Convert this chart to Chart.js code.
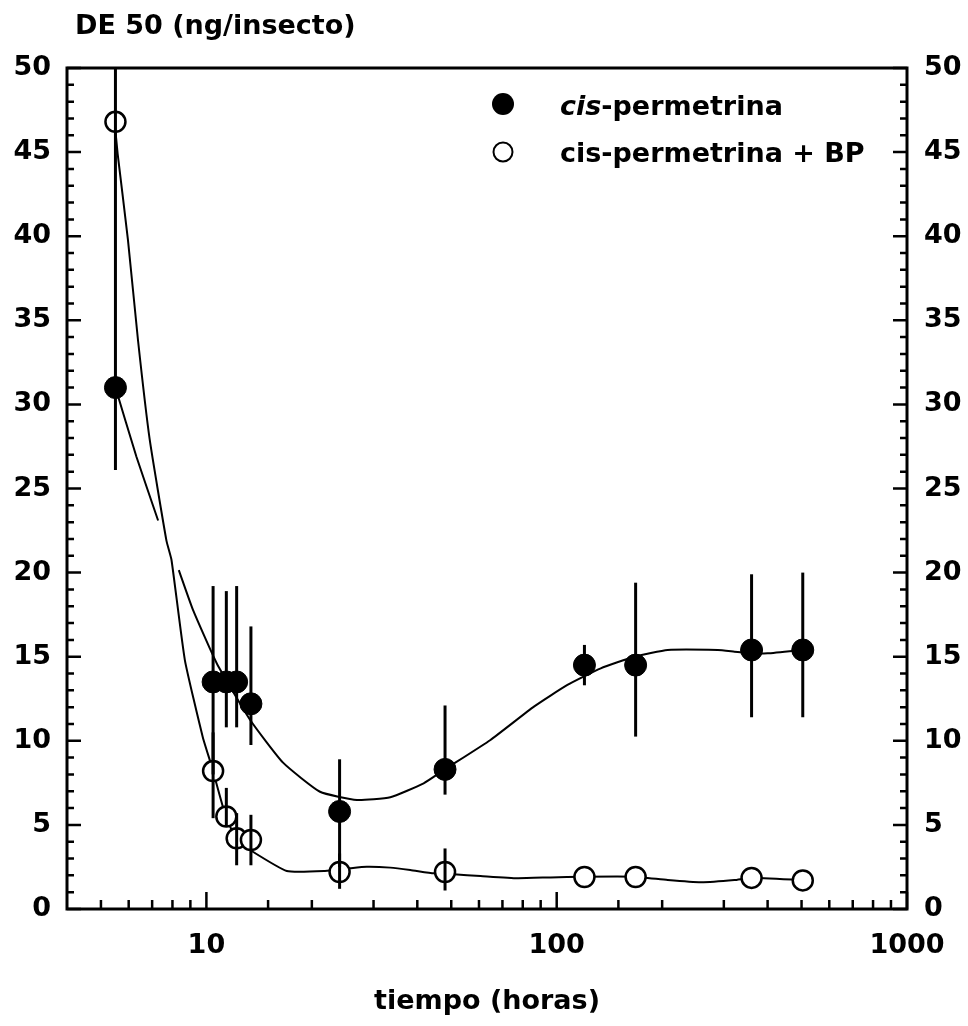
<!DOCTYPE html>
<html>
<head>
<meta charset="utf-8">
<script src="https://cdn.jsdelivr.net/npm/chart.js@4/dist/chart.umd.min.js"></script>
<style>
  html, body { margin: 0; padding: 0; background: #fff; }
  canvas { display: block; }
</style>
</head>
<body>
<canvas id="chart" width="968" height="1026"></canvas>
<script>
const FAMILY = '"DejaVu Sans", "Liberation Sans", sans-serif';

// Sampling times (hours)
const hours = [5.5, 10.45, 11.4, 12.2, 13.4, 24, 48, 120, 168, 360, 504];

// DE 50 (ng/insecto) for cis-permetrina, with the limits of each interval
const dePerm     = [31.0, 13.5, 13.5, 13.5, 12.2, 5.8, 8.3, 14.5, 14.5, 15.4, 15.4];
const dePermLow  = [26.1, 8.0, 10.8, 10.8, 9.75, 2.5, 6.8, 13.3, 10.25, 11.4, 11.4];
const dePermHigh = [52.0, 19.2, 18.9, 19.2, 16.8, 8.9, 12.1, 15.7, 19.4, 19.9, 20.0];

// DE 50 (ng/insecto) for cis-permetrina + BP
const dePermBP     = [46.8, 8.2, 5.5, 4.2, 4.1, 2.2, 2.2, 1.9, 1.9, 1.85, 1.7];
const dePermBPLow  = [null, 5.4, 4.9, 2.6, 2.6, 1.2, 1.1, null, null, null, null];
const dePermBPHigh = [null, 10.5, 7.2, 5.7, 5.6, 3.3, 3.6, null, null, null, null];

// Fitted curve, cis-permetrina (null marks the break where the curves cross)
const fitPermX = [5.5, 6.31, 7.28, 7.8, 8.34, 9.15, 10.71, 13.32, 16.55, 21.1, 26.9, 33.5, 41.7, 47.6, 64.7, 86.1, 107.3, 133.6, 166.4, 207.4, 288.3, 321.6, 359, 400, 502];
const fitPermY = [31.0, 26.9, 23.1, null, 20.15, 17.8, 14.6, 11.25, 8.7, 6.97, 6.48, 6.64, 7.47, 8.26, 10.05, 12.03, 13.32, 14.31, 15.0, 15.4, 15.4, 15.3, 15.2, 15.2, 15.4];

// Fitted curve, cis-permetrina + BP
const fitBPX = [5.47, 5.58, 5.97, 6.38, 6.89, 7.69, 7.95, 8.68, 9.77, 10.37, 11.37, 12.23, 13.32, 16.96, 21.8, 25.7, 28.7, 33.5, 38.2, 44.6, 50.8, 60.6, 77.2, 96.1, 118.9, 166.4, 207.4, 258.2, 321.6, 359, 502];
const fitBPY = [46.8, 44.9, 39.8, 33.8, 27.9, 21.9, 20.75, 14.8, 10.2, 8.44, 5.47, 4.1, 3.51, 2.26, 2.26, 2.42, 2.51, 2.46, 2.32, 2.12, 2.06, 1.96, 1.83, 1.88, 1.92, 1.92, 1.72, 1.59, 1.72, 1.86, 1.72];

// Axis ranges and labelled ticks
const xMin = 4, xMax = 1000;
const xTickLabels = [10, 100, 1000];
const yMin = 0, yMax = 50, yStep = 5;

const toPoints = (xs, ys) => xs.map((x, i) => ({ x: x, y: ys[i] }));

// Frame, inward tick marks, error bars and the text blocks around the plot
const decorations = {
  id: 'decorations',
  afterDatasetsDraw(chart) {
    const ctx = chart.ctx;
    const a = chart.chartArea;
    const xs = chart.scales.x, ys = chart.scales.y;
    ctx.save();
    ctx.beginPath();
    ctx.rect(a.left, a.top, a.right - a.left, a.bottom - a.top);
    ctx.clip();
    ctx.strokeStyle = '#000';
    ctx.lineWidth = 3;
    ctx.lineCap = 'butt';
    const bars = (low, high) => {
      hours.forEach((h, i) => {
        if (low[i] == null || high[i] == null) return;
        const px = xs.getPixelForValue(h);
        ctx.beginPath();
        ctx.moveTo(px, ys.getPixelForValue(low[i]));
        ctx.lineTo(px, ys.getPixelForValue(high[i]));
        ctx.stroke();
      });
    };
    bars(dePermLow, dePermHigh);
    bars(dePermBPLow, dePermBPHigh);
    ctx.restore();
  },
  afterDraw(chart) {
    const ctx = chart.ctx;
    const a = chart.chartArea;
    const xs = chart.scales.x, ys = chart.scales.y;
    ctx.save();
    ctx.strokeStyle = '#000';
    ctx.fillStyle = '#000';

    // y ticks on both sides, pointing into the plot
    ctx.lineWidth = 2.5;
    for (let v = yMin; v <= yMax; v += 1) {
      const py = ys.getPixelForValue(v);
      const len = v % yStep === 0 ? 14 : 7;
      ctx.beginPath();
      ctx.moveTo(a.left, py); ctx.lineTo(a.left + len, py);
      ctx.moveTo(a.right, py); ctx.lineTo(a.right - len, py);
      ctx.stroke();
    }
    // x ticks on the bottom axis, pointing up
    xs.ticks.forEach(t => {
      const v = t.value;
      if (v <= xMin || v > xMax) return;
      const px = xs.getPixelForValue(v);
      const major = Math.abs(Math.log10(v) - Math.round(Math.log10(v))) < 1e-9;
      const len = major ? 17 : 9;
      ctx.beginPath();
      ctx.moveTo(px, a.bottom); ctx.lineTo(px, a.bottom - len);
      ctx.stroke();
    });

    // frame
    ctx.lineWidth = 3;
    ctx.strokeRect(a.left, a.top, a.right - a.left, a.bottom - a.top);

    // titles
    ctx.font = 'bold 27px ' + FAMILY;
    ctx.textBaseline = 'alphabetic';
    ctx.textAlign = 'left';
    ctx.fillText('DE 50 (ng/insecto)', 75, 34);
    ctx.textAlign = 'center';
    ctx.fillText('tiempo (horas)', (a.left + a.right) / 2, 1009);

    // legend
    const lx = 503, tx = 560;
    ctx.beginPath();
    ctx.arc(lx, 104, 11, 0, Math.PI * 2);
    ctx.fill();
    ctx.beginPath();
    ctx.lineWidth = 2;
    ctx.arc(lx, 152, 9.5, 0, Math.PI * 2);
    ctx.fillStyle = '#fff';
    ctx.fill();
    ctx.stroke();
    ctx.fillStyle = '#000';
    ctx.textAlign = 'left';
    ctx.font = 'italic bold 27px ' + FAMILY;
    ctx.fillText('cis', tx, 115);
    const w = ctx.measureText('cis').width;
    ctx.font = 'bold 27px ' + FAMILY;
    ctx.fillText('-permetrina', tx + w, 115);
    ctx.fillText('cis-permetrina + BP', tx, 162);
    ctx.restore();
  }
};

const tickFont = { family: FAMILY, size: 27, weight: 'bold' };

new Chart(document.getElementById('chart'), {
  data: {
    datasets: [
      {
        type: 'scatter',
        label: 'cis-permetrina',
        data: toPoints(hours, dePerm),
        pointRadius: 11,
        pointHoverRadius: 11,
        pointBackgroundColor: '#000',
        pointBorderColor: '#000',
        pointBorderWidth: 1,
        order: 0
      },
      {
        type: 'scatter',
        label: 'cis-permetrina + BP',
        data: toPoints(hours, dePermBP),
        pointRadius: 10,
        pointHoverRadius: 10,
        pointBackgroundColor: '#fff',
        pointBorderColor: '#000',
        pointBorderWidth: 2.5,
        order: 0
      },
      {
        type: 'line',
        label: 'ajuste cis-permetrina',
        data: toPoints(fitPermX, fitPermY),
        borderColor: '#000',
        borderWidth: 2,
        pointRadius: 0,
        tension: 0.15,
        spanGaps: false,
        fill: false,
        order: 2
      },
      {
        type: 'line',
        label: 'ajuste cis-permetrina + BP',
        data: toPoints(fitBPX, fitBPY),
        borderColor: '#000',
        borderWidth: 2,
        pointRadius: 0,
        tension: 0.15,
        fill: false,
        order: 2
      }
    ]
  },
  options: {
    responsive: false,
    animation: false,
    events: [],
    layout: { padding: { top: 68, left: 0, right: 0, bottom: 0 } },
    plugins: {
      legend: { display: false },
      tooltip: { enabled: false },
      title: { display: false }
    },
    scales: {
      x: {
        type: 'logarithmic',
        position: 'bottom',
        min: xMin,
        max: xMax,
        grid: { display: false, drawTicks: false },
        border: { display: false },
        ticks: {
          autoSkip: false,
          maxRotation: 0,
          color: '#000',
          font: tickFont,
          padding: 21,
          callback: (v) => xTickLabels.includes(v) ? String(v) : ''
        },
        afterFit: (s) => { s.height = 117; }
      },
      y: {
        type: 'linear',
        position: 'left',
        min: yMin,
        max: yMax,
        grid: { display: false, drawTicks: false },
        border: { display: false },
        ticks: { stepSize: yStep, color: '#000', font: tickFont, padding: 16 },
        afterFit: (s) => { s.width = 67; }
      },
      y2: {
        type: 'linear',
        position: 'right',
        min: yMin,
        max: yMax,
        grid: { display: false, drawTicks: false },
        border: { display: false },
        ticks: { stepSize: yStep, color: '#000', font: tickFont, padding: 17 },
        afterFit: (s) => { s.width = 61; }
      }
    }
  },
  plugins: [decorations]
});
</script>
</body>
</html>
